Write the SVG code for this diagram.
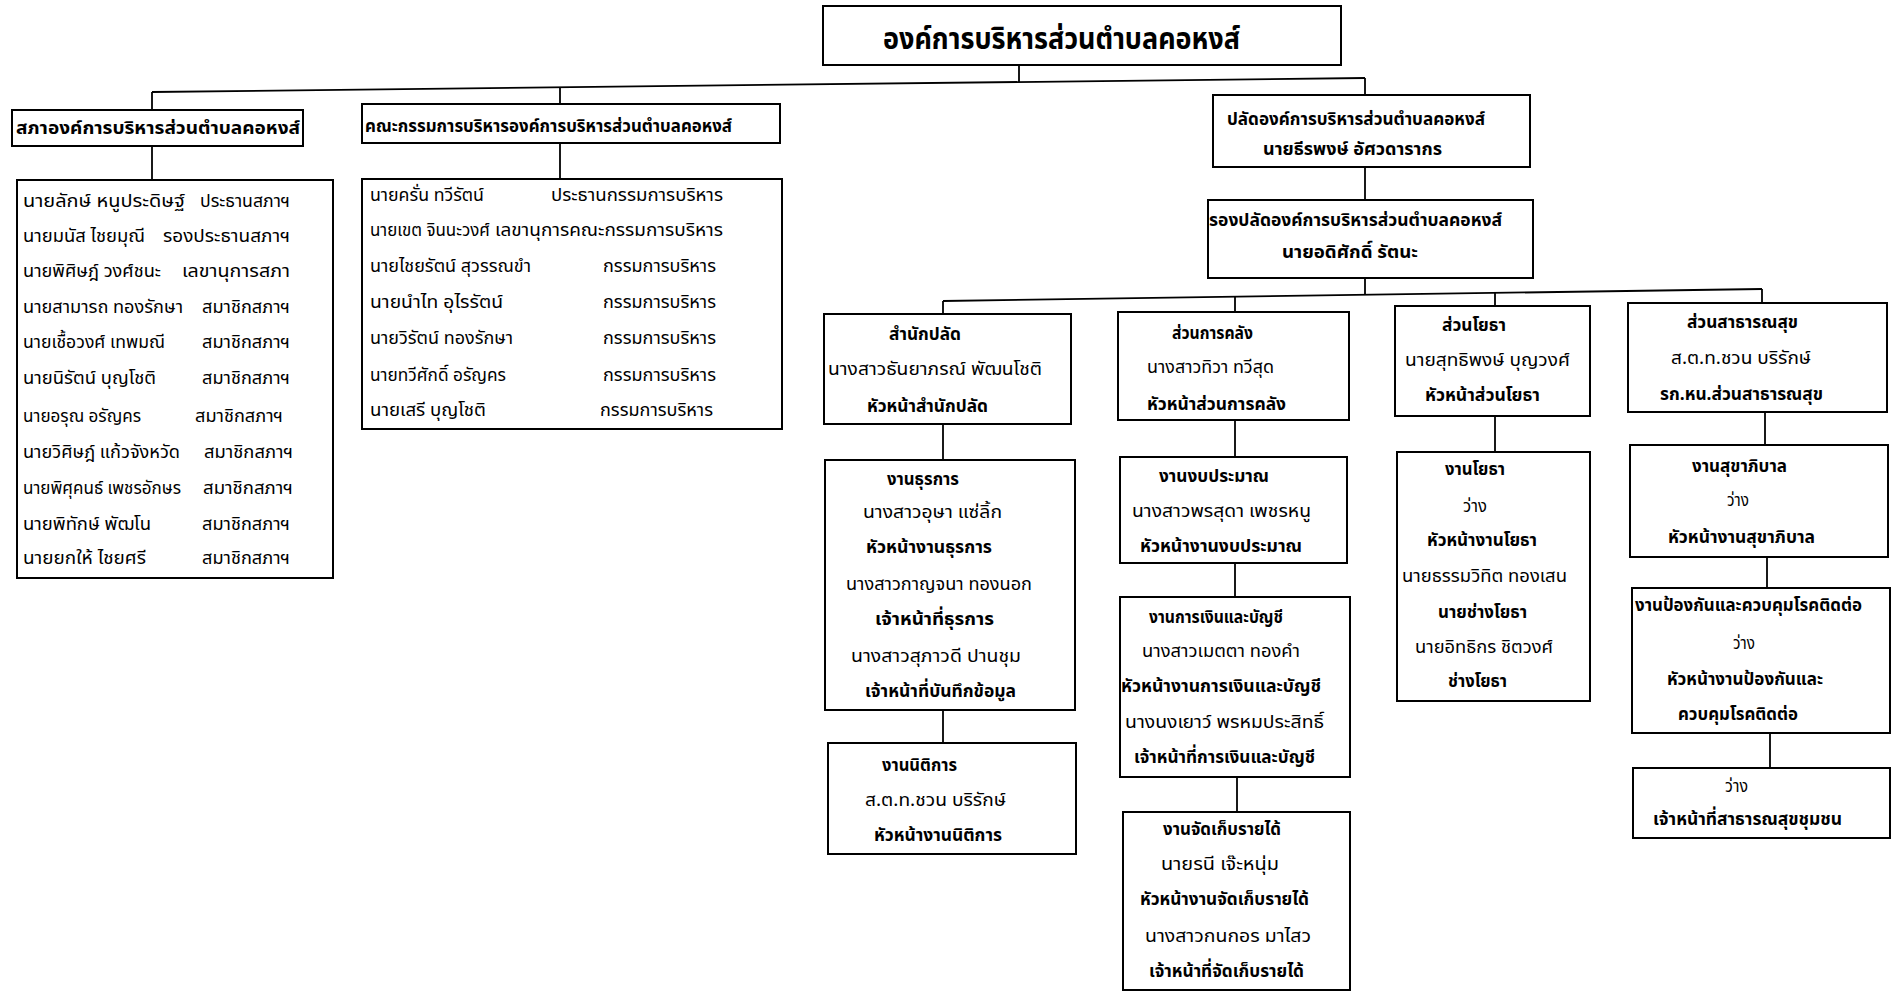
<svg xmlns="http://www.w3.org/2000/svg" width="1897" height="993" viewBox="0 0 1897 993">
<style>
.box{fill:#fff;stroke:#000;stroke-width:2}
.c line{stroke:#000;stroke-width:1.8}
text{font-family:"Noto Sans Thai","Noto Sans",sans-serif;font-size:18px;fill:#000}
.b{font-weight:bold}
</style>
<rect width="1897" height="993" fill="#fff"/>
<g class="c" id="connectors">
<line x1="1019" y1="65" x2="1019" y2="82"/>
<line x1="152" y1="92" x2="1365" y2="78"/>
<line x1="152" y1="92" x2="152" y2="110"/>
<line x1="560" y1="87" x2="560" y2="104"/>
<line x1="1365" y1="78" x2="1365" y2="95"/>
<line x1="152" y1="146" x2="152" y2="180"/>
<line x1="560" y1="143" x2="560" y2="179"/>
<line x1="1365" y1="167" x2="1365" y2="200"/>
<line x1="1365" y1="278" x2="1365" y2="295"/>
<line x1="943" y1="301" x2="1762" y2="289"/>
<line x1="943" y1="301" x2="943" y2="314"/>
<line x1="1235" y1="297" x2="1235" y2="312"/>
<line x1="1495" y1="293" x2="1495" y2="306"/>
<line x1="1762" y1="289" x2="1762" y2="303"/>
<line x1="943" y1="424" x2="943" y2="460"/>
<line x1="943" y1="710" x2="943" y2="743"/>
<line x1="1235" y1="420" x2="1235" y2="457"/>
<line x1="1235" y1="563" x2="1235" y2="597"/>
<line x1="1237" y1="777" x2="1237" y2="812"/>
<line x1="1495" y1="416" x2="1495" y2="452"/>
<line x1="1765" y1="412" x2="1765" y2="445"/>
<line x1="1767" y1="557" x2="1767" y2="588"/>
<line x1="1770" y1="733" x2="1770" y2="768"/>
</g>
<g id="n-top">
<rect class="box" x="823" y="6" width="518" height="59"/>
<text class="b" x="883" y="49" style="font-size:30px" textLength="357" lengthAdjust="spacingAndGlyphs">องค์การบริหารส่วนตำบลคอหงส์</text>
</g>
<g id="n-council">
<rect class="box" x="12" y="110" width="291" height="36"/>
<text class="b" x="16" y="134" textLength="284" lengthAdjust="spacingAndGlyphs">สภาองค์การบริหารส่วนตำบลคอหงส์</text>
</g>
<g id="n-council-members">
<rect class="box" x="17" y="180" width="316" height="398"/>
<text x="23" y="207" textLength="162" lengthAdjust="spacingAndGlyphs">นายลักษ์ หนูประดิษฐ์</text>
<text x="200" y="207" textLength="90" lengthAdjust="spacingAndGlyphs">ประธานสภาฯ</text>
<text x="23" y="242" textLength="122" lengthAdjust="spacingAndGlyphs">นายมนัส ไชยมุณี</text>
<text x="163" y="242" textLength="127" lengthAdjust="spacingAndGlyphs">รองประธานสภาฯ</text>
<text x="23" y="277" textLength="138" lengthAdjust="spacingAndGlyphs">นายพิศิษฎ์ วงศ์ชนะ</text>
<text x="182" y="277" textLength="108" lengthAdjust="spacingAndGlyphs">เลขานุการสภา</text>
<text x="23" y="313" textLength="160" lengthAdjust="spacingAndGlyphs">นายสามารถ ทองรักษา</text>
<text x="202" y="313" textLength="88" lengthAdjust="spacingAndGlyphs">สมาชิกสภาฯ</text>
<text x="23" y="348" textLength="142" lengthAdjust="spacingAndGlyphs">นายเชื้อวงศ์ เทพมณี</text>
<text x="202" y="348" textLength="88" lengthAdjust="spacingAndGlyphs">สมาชิกสภาฯ</text>
<text x="23" y="384" textLength="133" lengthAdjust="spacingAndGlyphs">นายนิรัตน์ บุญโชติ</text>
<text x="202" y="384" textLength="88" lengthAdjust="spacingAndGlyphs">สมาชิกสภาฯ</text>
<text x="23" y="422" textLength="118" lengthAdjust="spacingAndGlyphs">นายอรุณ อรัญคร</text>
<text x="195" y="422" textLength="88" lengthAdjust="spacingAndGlyphs">สมาชิกสภาฯ</text>
<text x="23" y="458" textLength="157" lengthAdjust="spacingAndGlyphs">นายวิศิษฎ์ แก้วจังหวัด</text>
<text x="204" y="458" textLength="89" lengthAdjust="spacingAndGlyphs">สมาชิกสภาฯ</text>
<text x="23" y="494" textLength="158" lengthAdjust="spacingAndGlyphs">นายพิศุคนธ์ เพชรอักษร</text>
<text x="203" y="494" textLength="90" lengthAdjust="spacingAndGlyphs">สมาชิกสภาฯ</text>
<text x="23" y="530" textLength="128" lengthAdjust="spacingAndGlyphs">นายพิทักษ์ พัฒโน</text>
<text x="202" y="530" textLength="88" lengthAdjust="spacingAndGlyphs">สมาชิกสภาฯ</text>
<text x="23" y="564" textLength="123" lengthAdjust="spacingAndGlyphs">นายยกให้ ไชยศรี</text>
<text x="202" y="564" textLength="88" lengthAdjust="spacingAndGlyphs">สมาชิกสภาฯ</text>
</g>
<g id="n-exec">
<rect class="box" x="362" y="104" width="418" height="39"/>
<text class="b" x="365" y="132" textLength="367" lengthAdjust="spacingAndGlyphs">คณะกรรมการบริหารองค์การบริหารส่วนตำบลคอหงส์</text>
</g>
<g id="n-exec-members">
<rect class="box" x="362" y="179" width="420" height="250"/>
<text x="370" y="201" textLength="114" lengthAdjust="spacingAndGlyphs">นายครั่น ทวีรัตน์</text>
<text x="551" y="201" textLength="172" lengthAdjust="spacingAndGlyphs">ประธานกรรมการบริหาร</text>
<text x="370" y="236" textLength="120" lengthAdjust="spacingAndGlyphs">นายเขต  จินนะวงศ์</text>
<text x="495" y="236" textLength="228" lengthAdjust="spacingAndGlyphs">เลขานุการคณะกรรมการบริหาร</text>
<text x="370" y="272" textLength="161" lengthAdjust="spacingAndGlyphs">นายไชยรัตน์ สุวรรณขำ</text>
<text x="603" y="272" textLength="113" lengthAdjust="spacingAndGlyphs">กรรมการบริหาร</text>
<text x="370" y="308" textLength="133" lengthAdjust="spacingAndGlyphs">นายนำไท อุไรรัตน์</text>
<text x="603" y="308" textLength="113" lengthAdjust="spacingAndGlyphs">กรรมการบริหาร</text>
<text x="370" y="344" textLength="143" lengthAdjust="spacingAndGlyphs">นายวิรัตน์ ทองรักษา</text>
<text x="603" y="344" textLength="113" lengthAdjust="spacingAndGlyphs">กรรมการบริหาร</text>
<text x="370" y="381" textLength="136" lengthAdjust="spacingAndGlyphs">นายทวีศักดิ์ อรัญคร</text>
<text x="603" y="381" textLength="113" lengthAdjust="spacingAndGlyphs">กรรมการบริหาร</text>
<text x="370" y="416" textLength="116" lengthAdjust="spacingAndGlyphs">นายเสรี บุญโชติ</text>
<text x="600" y="416" textLength="113" lengthAdjust="spacingAndGlyphs">กรรมการบริหาร</text>
</g>
<g id="n-palad">
<rect class="box" x="1213" y="95" width="317" height="72"/>
<text class="b" x="1227" y="125" textLength="258" lengthAdjust="spacingAndGlyphs">ปลัดองค์การบริหารส่วนตำบลคอหงส์</text>
<text class="b" x="1263" y="155" textLength="179" lengthAdjust="spacingAndGlyphs">นายธีรพงษ์ อัศวดารากร</text>
</g>
<g id="n-deputy">
<rect class="box" x="1208" y="200" width="325" height="78"/>
<text class="b" x="1209" y="226" textLength="293" lengthAdjust="spacingAndGlyphs">รองปลัดองค์การบริหารส่วนตำบลคอหงส์</text>
<text class="b" x="1282" y="258" textLength="136" lengthAdjust="spacingAndGlyphs">นายอดิศักดิ์ รัตนะ</text>
</g>
<g id="n-office">
<rect class="box" x="824" y="314" width="247" height="110"/>
<text class="b" x="889" y="340" textLength="72" lengthAdjust="spacingAndGlyphs">สำนักปลัด</text>
<text x="828" y="375" textLength="214" lengthAdjust="spacingAndGlyphs">นางสาวธันยาภรณ์ พัฒนโชติ</text>
<text class="b" x="867" y="412" textLength="121" lengthAdjust="spacingAndGlyphs">หัวหน้าสำนักปลัด</text>
</g>
<g id="n-admin">
<rect class="box" x="825" y="460" width="250" height="250"/>
<text class="b" x="887" y="485" textLength="72" lengthAdjust="spacingAndGlyphs">งานธุรการ</text>
<text x="863" y="518" textLength="139" lengthAdjust="spacingAndGlyphs">นางสาวอุษา แซ่ลิ้ก</text>
<text class="b" x="866" y="553" textLength="126" lengthAdjust="spacingAndGlyphs">หัวหน้างานธุรการ</text>
<text x="846" y="590" textLength="186" lengthAdjust="spacingAndGlyphs">นางสาวกาญจนา ทองนอก</text>
<text class="b" x="875" y="625" textLength="119" lengthAdjust="spacingAndGlyphs">เจ้าหน้าที่ธุรการ</text>
<text x="851" y="662" textLength="170" lengthAdjust="spacingAndGlyphs">นางสาวสุภาวดี ปานชุม</text>
<text class="b" x="865" y="697" textLength="151" lengthAdjust="spacingAndGlyphs">เจ้าหน้าที่บันทึกข้อมูล</text>
</g>
<g id="n-legal">
<rect class="box" x="828" y="743" width="248" height="111"/>
<text class="b" x="882" y="771" textLength="75" lengthAdjust="spacingAndGlyphs">งานนิติการ</text>
<text x="865" y="806" textLength="141" lengthAdjust="spacingAndGlyphs">ส.ต.ท.ชวน  บริรักษ์</text>
<text class="b" x="874" y="841" textLength="128" lengthAdjust="spacingAndGlyphs">หัวหน้างานนิติการ</text>
</g>
<g id="n-finance">
<rect class="box" x="1118" y="312" width="231" height="108"/>
<text class="b" x="1172" y="339" textLength="81" lengthAdjust="spacingAndGlyphs">ส่วนการคลัง</text>
<text x="1147" y="373" textLength="127" lengthAdjust="spacingAndGlyphs">นางสาวทิวา  ทวีสุด</text>
<text class="b" x="1147" y="410" textLength="139" lengthAdjust="spacingAndGlyphs">หัวหน้าส่วนการคลัง</text>
</g>
<g id="n-budget">
<rect class="box" x="1120" y="457" width="227" height="106"/>
<text class="b" x="1159" y="482" textLength="110" lengthAdjust="spacingAndGlyphs">งานงบประมาณ</text>
<text x="1132" y="517" textLength="179" lengthAdjust="spacingAndGlyphs">นางสาวพรสุดา  เพชรหนู</text>
<text class="b" x="1140" y="552" textLength="162" lengthAdjust="spacingAndGlyphs">หัวหน้างานงบประมาณ</text>
</g>
<g id="n-accounting">
<rect class="box" x="1120" y="597" width="230" height="180"/>
<text class="b" x="1149" y="623" textLength="134" lengthAdjust="spacingAndGlyphs">งานการเงินและบัญชี</text>
<text x="1142" y="657" textLength="158" lengthAdjust="spacingAndGlyphs">นางสาวเมตตา  ทองคำ</text>
<text class="b" x="1121" y="692" textLength="200" lengthAdjust="spacingAndGlyphs">หัวหน้างานการเงินและบัญชี</text>
<text x="1125" y="728" textLength="199" lengthAdjust="spacingAndGlyphs">นางนงเยาว์  พรหมประสิทธิ์</text>
<text class="b" x="1134" y="763" textLength="181" lengthAdjust="spacingAndGlyphs">เจ้าหน้าที่การเงินและบัญชี</text>
</g>
<g id="n-revenue">
<rect class="box" x="1123" y="812" width="227" height="178"/>
<text class="b" x="1163" y="835" textLength="118" lengthAdjust="spacingAndGlyphs">งานจัดเก็บรายได้</text>
<text x="1161" y="870" textLength="118" lengthAdjust="spacingAndGlyphs">นายรนี  เจ๊ะหนุ่ม</text>
<text class="b" x="1140" y="905" textLength="169" lengthAdjust="spacingAndGlyphs">หัวหน้างานจัดเก็บรายได้</text>
<text x="1145" y="942" textLength="166" lengthAdjust="spacingAndGlyphs">นางสาวกนกอร  มาไสว</text>
<text class="b" x="1149" y="977" textLength="155" lengthAdjust="spacingAndGlyphs">เจ้าหน้าที่จัดเก็บรายได้</text>
</g>
<g id="n-works">
<rect class="box" x="1395" y="306" width="195" height="110"/>
<text class="b" x="1442" y="331" textLength="64" lengthAdjust="spacingAndGlyphs">ส่วนโยธา</text>
<text x="1405" y="366" textLength="165" lengthAdjust="spacingAndGlyphs">นายสุทธิพงษ์  บุญวงศ์</text>
<text class="b" x="1425" y="401" textLength="115" lengthAdjust="spacingAndGlyphs">หัวหน้าส่วนโยธา</text>
</g>
<g id="n-works-unit">
<rect class="box" x="1397" y="452" width="193" height="249"/>
<text class="b" x="1445" y="475" textLength="60" lengthAdjust="spacingAndGlyphs">งานโยธา</text>
<text x="1463" y="512" textLength="24" lengthAdjust="spacingAndGlyphs">ว่าง</text>
<text class="b" x="1427" y="546" textLength="110" lengthAdjust="spacingAndGlyphs">หัวหน้างานโยธา</text>
<text x="1402" y="582" textLength="165" lengthAdjust="spacingAndGlyphs">นายธรรมวิทิต  ทองเสน</text>
<text class="b" x="1438" y="618" textLength="89" lengthAdjust="spacingAndGlyphs">นายช่างโยธา</text>
<text x="1415" y="653" textLength="138" lengthAdjust="spacingAndGlyphs">นายอิทธิกร  ชิตวงศ์</text>
<text class="b" x="1448" y="687" textLength="59" lengthAdjust="spacingAndGlyphs">ช่างโยธา</text>
</g>
<g id="n-health">
<rect class="box" x="1628" y="303" width="259" height="109"/>
<text class="b" x="1687" y="328" textLength="111" lengthAdjust="spacingAndGlyphs">ส่วนสาธารณสุข</text>
<text x="1671" y="364" textLength="140" lengthAdjust="spacingAndGlyphs">ส.ต.ท.ชวน  บริรักษ์</text>
<text class="b" x="1660" y="400" textLength="163" lengthAdjust="spacingAndGlyphs">รก.หน.ส่วนสาธารณสุข</text>
</g>
<g id="n-sanitation">
<rect class="box" x="1630" y="445" width="258" height="112"/>
<text class="b" x="1692" y="472" textLength="95" lengthAdjust="spacingAndGlyphs">งานสุขาภิบาล</text>
<text x="1727" y="506" textLength="22" lengthAdjust="spacingAndGlyphs">ว่าง</text>
<text class="b" x="1668" y="543" textLength="147" lengthAdjust="spacingAndGlyphs">หัวหน้างานสุขาภิบาล</text>
</g>
<g id="n-disease">
<rect class="box" x="1632" y="588" width="258" height="145"/>
<text class="b" x="1635" y="611" textLength="227" lengthAdjust="spacingAndGlyphs">งานป้องกันและควบคุมโรคติดต่อ</text>
<text x="1733" y="649" textLength="22" lengthAdjust="spacingAndGlyphs">ว่าง</text>
<text class="b" x="1667" y="685" textLength="156" lengthAdjust="spacingAndGlyphs">หัวหน้างานป้องกันและ</text>
<text class="b" x="1678" y="720" textLength="120" lengthAdjust="spacingAndGlyphs">ควบคุมโรคติดต่อ</text>
</g>
<g id="n-community">
<rect class="box" x="1633" y="768" width="257" height="70"/>
<text x="1725" y="792" textLength="23" lengthAdjust="spacingAndGlyphs">ว่าง</text>
<text class="b" x="1653" y="825" textLength="189" lengthAdjust="spacingAndGlyphs">เจ้าหน้าที่สาธารณสุขชุมชน</text>
</g>
</svg>
